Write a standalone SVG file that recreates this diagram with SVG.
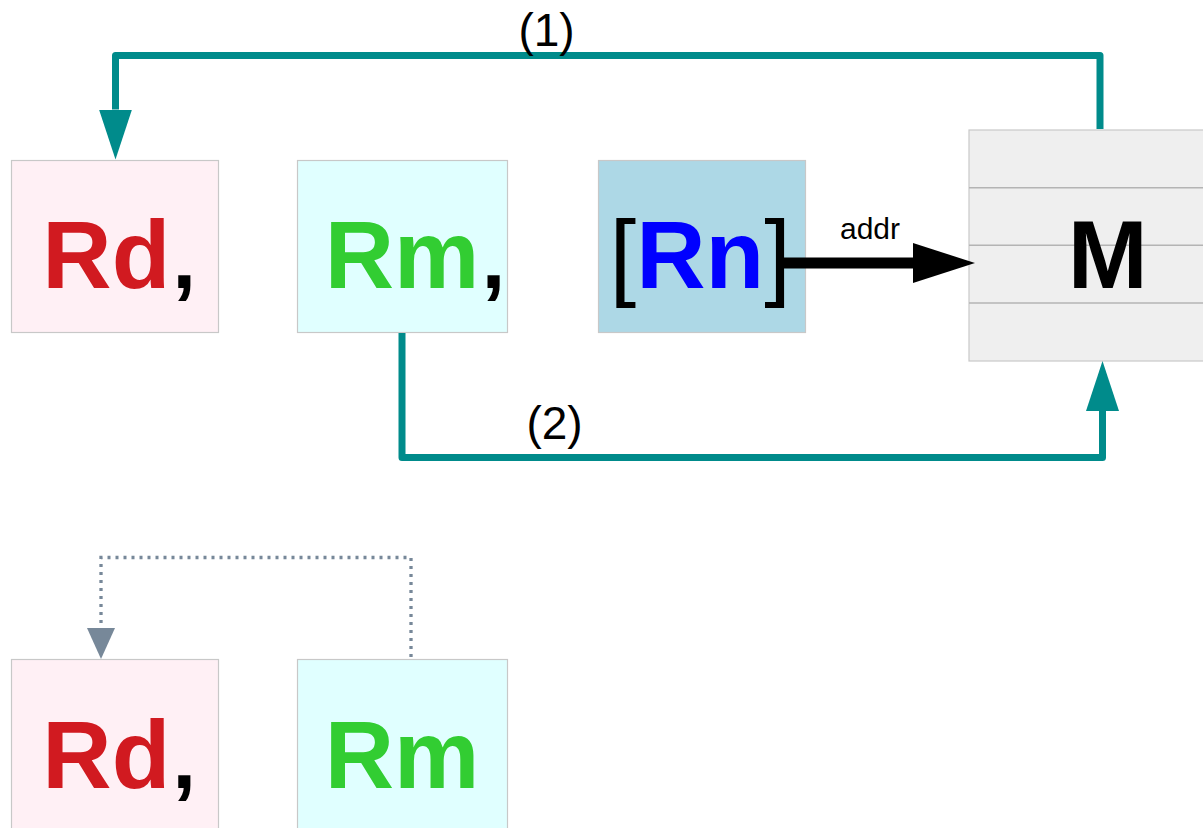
<svg xmlns="http://www.w3.org/2000/svg" width="1203" height="828" viewBox="0 0 1203 828">
<style>
.box{stroke:#c8c8c8;stroke-width:1.2}
.rd{fill:#fff0f5}
.rm{fill:#e0ffff}
.rn{fill:#add8e6}
.mem{fill:#efefef}
.row{stroke:#b4b4b4;stroke-width:1.5}
.big{font-family:"Liberation Sans",Arial,sans-serif;font-size:96px;font-weight:bold}
.cm{font-size:86px;fill:#000}
.lbl{font-family:"Liberation Sans",Arial,sans-serif;text-anchor:middle;fill:#000}
.teal{fill:none;stroke:#008b8b;stroke-width:7;stroke-linejoin:round}
.blk{fill:none;stroke:#000;stroke-width:11}
.dot{fill:none;stroke:#778899;stroke-width:3.3;stroke-dasharray:3 5}
</style>
<defs>
<marker id="ahTeal" viewBox="0 -16.5 50 33" refX="0" refY="0" markerWidth="50" markerHeight="33" markerUnits="userSpaceOnUse" orient="auto">
<path d="M0,-16.5 L50,0 L0,16.5 Z" fill="#008b8b"/>
</marker>
<marker id="ahBlk" viewBox="0 -20 62 40" refX="0" refY="0" markerWidth="62" markerHeight="40" markerUnits="userSpaceOnUse" orient="auto">
<path d="M0,-20 L62,0 L0,20 Z" fill="#000"/>
</marker>
<marker id="ahGray" viewBox="0 -14 31 28" refX="0" refY="0" markerWidth="31" markerHeight="28" markerUnits="userSpaceOnUse" orient="auto">
<path d="M0,-14 L31,0 L0,14 Z" fill="#778899"/>
</marker>
</defs>

<g id="node-rd1">
<rect class="box rd" x="11.5" y="160.5" width="207" height="172"/>
<text class="big" x="42.3" y="288"><tspan fill="#d11a20">Rd</tspan><tspan class="cm" dx="2">,</tspan></text>
</g>
<g id="node-rm1">
<rect class="box rm" x="297.5" y="160.5" width="210" height="172"/>
<text class="big" x="324.7" y="288"><tspan fill="#32cd32">Rm</tspan><tspan class="cm" dx="2">,</tspan></text>
</g>
<g id="node-rn">
<rect class="box rn" x="598.5" y="160.5" width="207" height="172"/>
<text class="big" x="609.5" y="288"><tspan fill="#000" font-weight="normal">[</tspan><tspan fill="#0000ff">Rn</tspan><tspan fill="#000" font-weight="normal">]</tspan></text>
</g>
<g id="node-m">
<rect class="box mem" x="969" y="130" width="277" height="231"/>
<line class="row" x1="969" y1="187.7" x2="1246" y2="187.7"/>
<line class="row" x1="969" y1="245.3" x2="1246" y2="245.3"/>
<line class="row" x1="969" y1="303" x2="1246" y2="303"/>
<text class="big" x="1107.7" y="288" font-size="98" text-anchor="middle" fill="#000">M</text>
</g>
<g id="node-rd2">
<rect class="box rd" x="11.5" y="659.5" width="207" height="172"/>
<text class="big" x="42.3" y="788"><tspan fill="#d11a20">Rd</tspan><tspan class="cm" dx="2">,</tspan></text>
</g>
<g id="node-rm2">
<rect class="box rm" x="297.5" y="659.5" width="210" height="172"/>
<text class="big" x="324.7" y="788" fill="#32cd32">Rm</text>
</g>

<g id="connectors">
<path class="teal" d="M1100,129 L1100,55.5 L115.5,55.5 L115.5,109.5" marker-end="url(#ahTeal)"/>
<text class="lbl" x="546.5" y="46" font-size="46">(1)</text>
<path class="teal" d="M402,333 L402,457.5 L1102.5,457.5 L1102.5,411" marker-end="url(#ahTeal)"/>
<text class="lbl" x="554.5" y="438.5" font-size="46">(2)</text>
<path class="blk" d="M784,263 L913,263" marker-end="url(#ahBlk)"/>
<text class="lbl" x="870" y="239" font-size="30">addr</text>
<path class="dot" d="M411,657 L411,557.5 L101,557.5 L101,628" marker-end="url(#ahGray)"/>
</g>
</svg>
